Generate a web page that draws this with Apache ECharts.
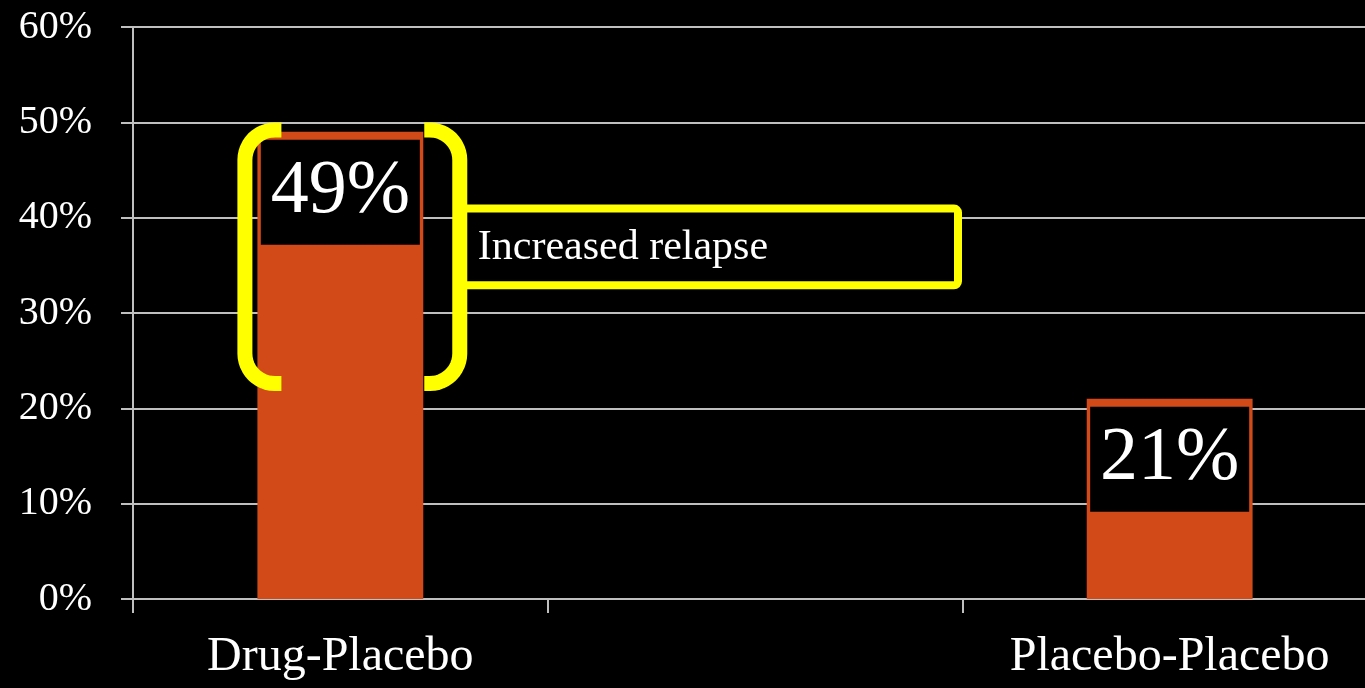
<!DOCTYPE html>
<html>
<head>
<meta charset="utf-8">
<script src="https://cdn.jsdelivr.net/npm/echarts@6/dist/echarts.min.js"></script>
<style>
html,body{margin:0;padding:0;background:#000;}
#c{width:1365px;height:688px;}
</style>
</head>
<body>
<div id="c"></div>
<script>
const categories = ['Drug-Placebo', '', 'Placebo-Placebo'];
const relapseValues = [49, null, 21];
const yTicks = [0, 10, 20, 30, 40, 50, 60];
const annotationText = 'Increased relapse';

const FONT = '"Liberation Serif", "DejaVu Serif", serif';
const GRID_COLOR = '#bfbfbf';
const BAR_COLOR = '#D14A17';
const YELLOW = '#ffff00';

const chart = echarts.init(document.getElementById('c'));

const option = {
  backgroundColor: '#000',
  animation: false,
  grid: { left: 133, top: 27, right: -12, bottom: 89, containLabel: false, outerBoundsMode: 'none' },
  xAxis: {
    type: 'category',
    data: categories,
    axisLine: { show: true, lineStyle: { color: GRID_COLOR, width: 2 } },
    axisTick: { show: true, interval: 0, length: 14, lineStyle: { color: GRID_COLOR, width: 2 } },
    axisLabel: { interval: 0, color: '#fff', fontFamily: FONT, fontSize: 48, margin: 34 },
    splitLine: { show: false }
  },
  yAxis: {
    type: 'value',
    min: yTicks[0],
    max: yTicks[yTicks.length - 1],
    interval: 10,
    axisLine: { show: true, lineStyle: { color: GRID_COLOR, width: 2 } },
    axisTick: { show: true, length: 12, lineStyle: { color: GRID_COLOR, width: 2 } },
    axisLabel: { color: '#fff', fontFamily: FONT, fontSize: 40, margin: 41, formatter: '{value}%' },
    splitLine: { show: true, lineStyle: { color: GRID_COLOR, width: 2 } }
  },
  series: [{
    type: 'bar',
    data: relapseValues,
    barWidth: '40%',
    itemStyle: { color: BAR_COLOR },
    label: {
      show: true,
      position: 'insideTop',
      distance: 8,
      formatter: '{c}%',
      color: '#fff',
      fontFamily: FONT,
      fontSize: 76,
      backgroundColor: '#000',
      width: 159,
      height: 105,
      lineHeight: 105,
      align: 'center',
      verticalAlign: 'top'
    }
  }]
};
chart.setOption(option);

function bracketPoints(xv, yTop, yBot, xEnd, r, dir) {
  // dir = +1 for left bracket (opens right), -1 for right bracket (opens left)
  const pts = [[xEnd, yTop]];
  const cxc = xv + dir * r;
  const n = 12;
  for (let i = 0; i <= n; i++) {
    const t = (Math.PI / 2) * (i / n);
    pts.push([cxc - dir * r * Math.sin(t), yTop + r - r * Math.cos(t)]);
  }
  for (let i = 0; i <= n; i++) {
    const t = (Math.PI / 2) * (i / n);
    pts.push([xv + dir * r * (1 - Math.cos(t)), yBot - r + r * Math.sin(t)]);
  }
  pts.push([xEnd, yBot]);
  return pts;
}

function drawAnnotations() {
  const cx = chart.convertToPixel({ xAxisIndex: 0 }, categories[0]);
  const c1 = chart.convertToPixel({ xAxisIndex: 0 }, categories[1]);
  const band = c1 - cx;
  const half = band * 0.2;
  const barL = cx - half, barR = cx + half;
  const yTop = chart.convertToPixel({ yAxisIndex: 0 }, 49.2);
  const yBot = chart.convertToPixel({ yAxisIndex: 0 }, 22.6);
  const lx = barL - 12.5, rx = barR + 36.5;
  const lEnd = barL + 24, rEnd = barR + 1;
  const r = 30;
  const bs = { stroke: YELLOW, lineWidth: 15, fill: null, lineCap: 'butt', lineJoin: 'round' };
  const els = [];
  const boxTop = chart.convertToPixel({ yAxisIndex: 0 }, 40.95);
  const boxBot = chart.convertToPixel({ yAxisIndex: 0 }, 32.9);
  const boxL = rx;
  const boxR = c1 + 203;
  els.push({ type: 'rect', shape: { x: boxL, y: boxTop, width: boxR - boxL, height: boxBot - boxTop, r: 4 },
    style: { fill: '#000', stroke: YELLOW, lineWidth: 8 }, z: 100 });
  els.push({ type: 'polyline', shape: { points: bracketPoints(lx, yTop, yBot, lEnd, r, 1) }, style: bs, z: 101 });
  els.push({ type: 'polyline', shape: { points: bracketPoints(rx, yTop, yBot, rEnd, r, -1) }, style: bs, z: 101 });
  els.push({ type: 'text', x: boxL + 18, y: (boxTop + boxBot) / 2 + 1, z: 102,
    style: { text: annotationText, fill: '#fff', font: '42px ' + FONT, verticalAlign: 'middle', align: 'left' } });
  chart.setOption({ graphic: els });
}
drawAnnotations();
</script>
</body>
</html>
